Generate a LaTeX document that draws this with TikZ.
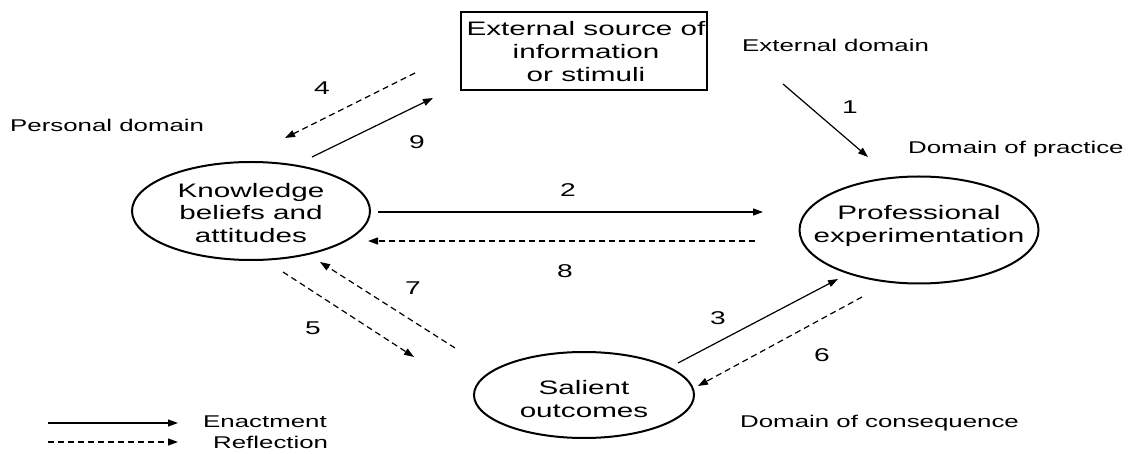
\documentclass[tikz,border=0pt]{standalone}
\usepackage{fontspec}
\setmainfont{Liberation Sans}[FakeStretch=1.52]
\usetikzlibrary{arrows.meta,shapes.geometric}
\begin{document}
\begin{tikzpicture}[x=1pt,y=-1pt,
  bubble/.style={draw, ellipse, line width=2pt, inner sep=0pt},
  sourcebox/.style={draw, rectangle, line width=2pt, inner sep=0pt},
  bubbletext/.style={align=center, font=\fontsize{19.5}{22.5}\selectfont, inner sep=0pt},
  domlabel/.style={anchor=base west, font=\fontsize{17}{20}\selectfont, inner sep=0pt},
  stepnum/.style={font=\fontsize{18.5}{20}\selectfont, inner sep=0pt},
  enact/.style={line width=1.2pt, -{Triangle[length=10pt,width=7pt]}},
  reflect/.style={enact, dash pattern=on 6pt off 4pt},
]
\useasboundingbox (0,0) rectangle (1132,454);

% the four stations of the cycle
\node[sourcebox, minimum width=246, minimum height=78] (src) at (584,51) {};
\node[bubbletext, font=\fontsize{19.5}{23}\selectfont] (srct) at (586,52) {External source of\\information\\or stimuli};

\node[bubble, minimum width=238, minimum height=98] (kba) at (251,211) {};
\node[bubbletext] (kbat) at (251,213) {Knowledge\\beliefs and\\attitudes};

\node[bubble, minimum width=239, minimum height=107] (pe) at (919,230) {};
\node[bubbletext] (pet) at (919,226) {Professional\\experimentation};

\node[bubble, minimum width=220, minimum height=86] (so) at (584,395) {};
\node[bubbletext, font=\fontsize{19.5}{23}\selectfont] (sot) at (584,399) {Salient\\outcomes};

% domain labels
\node[domlabel] (dext) at (742,52) {External domain};
\node[domlabel] (dper) at (10,132) {Personal domain};
\node[domlabel] (dpra) at (908,154) {Domain of practice};
\node[domlabel] (dcon) at (740,427) {Domain of consequence};

% arrow end points
\coordinate (a1s) at (783,84);   \coordinate (a1e) at (868,157);
\coordinate (a2s) at (378,212);  \coordinate (a2e) at (763,212);
\coordinate (a3s) at (678,363);  \coordinate (a3e) at (838,279);
\coordinate (a4s) at (415,73);   \coordinate (a4e) at (285,138);
\coordinate (a5s) at (283,272);  \coordinate (a5e) at (414,357);
\coordinate (a6s) at (862,297);  \coordinate (a6e) at (698,386);
\coordinate (a7s) at (455,348);  \coordinate (a7e) at (320,262);
\coordinate (a8s) at (755,241);  \coordinate (a8e) at (368,241);
\coordinate (a9s) at (312,157);  \coordinate (a9e) at (433,98);

% enactment
\draw[enact] (a1s) -- (a1e);
\draw[enact] (a2s) -- (a2e);
\draw[enact] (a3s) -- (a3e);
\draw[enact] (a9s) -- (a9e);
% reflection
\draw[reflect] (a4s) -- (a4e);
\draw[reflect] (a5s) -- (a5e);
\draw[reflect] (a6s) -- (a6e);
\draw[reflect] (a7s) -- (a7e);
\draw[reflect] (a8s) -- (a8e);

% step numbers
\node[stepnum] (n1) at (850,107) {1};
\node[stepnum] (n2) at (568,190) {2};
\node[stepnum] (n3) at (718,318) {3};
\node[stepnum] (n4) at (322,88) {4};
\node[stepnum] (n5) at (313,328) {5};
\node[stepnum] (n6) at (822,355) {6};
\node[stepnum] (n7) at (413,288) {7};
\node[stepnum] (n8) at (565,271) {8};
\node[stepnum] (n9) at (417,142) {9};

% legend
\coordinate (le1s) at (48,423);  \coordinate (le1e) at (178,423);
\coordinate (le2s) at (48,442);  \coordinate (le2e) at (178,442);
\draw[enact] (le1s) -- (le1e);
\draw[reflect] (le2s) -- (le2e);
\node[domlabel] (lenact) at (203,427) {Enactment};
\node[domlabel] (lrefl) at (213,448) {Reflection};
\end{tikzpicture}
\end{document}
